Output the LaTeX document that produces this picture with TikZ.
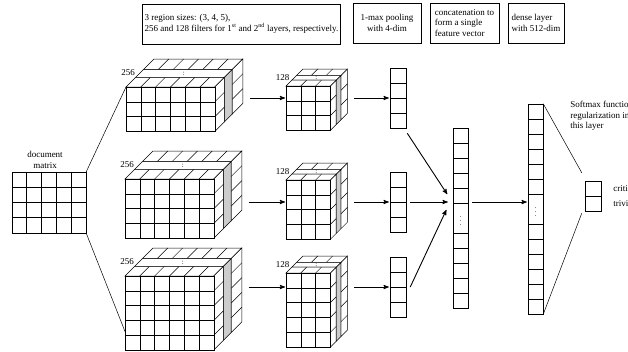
\documentclass[tikz,border=0pt]{standalone}
\usepackage{fontspec}
\setmainfont{Liberation Serif}
\usepackage{tikz}
\usetikzlibrary{arrows,positioning,calc}

\def\cellsize{14.8}
\def\fa{0.34}
\def\fb{0.62}

% one slab of cubes between the depths #1 and #2
\newcommand{\cubelayer}[2]{%
  \filldraw[fill=white] ({#1*\dep},{-#1*\dep}) -- ({\bw+#1*\dep},{-#1*\dep})
    -- ({\bw+#2*\dep},{-#2*\dep}) -- ({#2*\dep},{-#2*\dep}) -- cycle;
  \filldraw[fill=white] ({\bw+#1*\dep},{-#1*\dep}) -- ({\bw+#1*\dep},{\bh-#1*\dep})
    -- ({\bw+#2*\dep},{\bh-#2*\dep}) -- ({\bw+#2*\dep},{-#2*\dep}) -- cycle;
  \foreach \i in {1,...,\ncol}
    \draw ({\i*\cellsize+#1*\dep},{-#1*\dep}) -- ({\i*\cellsize+#2*\dep},{-#2*\dep});
  \foreach \j in {1,...,\nrow}
    \draw ({\bw+#1*\dep},{\j*\cellsize-#1*\dep}) -- ({\bw+#2*\dep},{\j*\cellsize-#2*\dep});
}

% name, x, y, cols, rows, depth, label
\newcommand{\filterblock}[7]{%
  \begin{scope}[shift={(#2,#3)}]
    \pgfmathsetmacro\bw{#4*\cellsize}
    \pgfmathsetmacro\bh{#5*\cellsize}
    \pgfmathtruncatemacro\ncol{#4-1}
    \pgfmathtruncatemacro\nrow{#5-1}
    \def\dep{#6}
    \coordinate (#1) at (0,0);
    \coordinate (#1-lo) at (0,{0.75*\bh});
    \coordinate (#1-out) at ({\bw+\dep+7},0);
    \cubelayer{\fb}{1}
    % gap between the slabs
    \filldraw[fill=white] ({\fa*\dep},{-\fa*\dep}) -- ({\bw+\fa*\dep},{-\fa*\dep})
      -- ({\bw+\fb*\dep},{-\fb*\dep}) -- ({\fb*\dep},{-\fb*\dep}) -- cycle;
    \filldraw[fill=gray!40] ({\bw+\fa*\dep},{-\fa*\dep}) -- ({\bw+\fa*\dep},{\bh-\fa*\dep})
      -- ({\bw+\fb*\dep},{\bh-\fb*\dep}) -- ({\bw+\fb*\dep},{-\fb*\dep}) -- cycle;
    \node[font=\scriptsize,inner sep=0pt] at ({0.5*\bw+0.48*\dep},{-0.48*\dep}) {:};
    \cubelayer{0}{\fa}
    % front face
    \filldraw[fill=white] (0,0) rectangle (\bw,\bh);
    \foreach \i in {1,...,\ncol} \draw ({\i*\cellsize},0) -- ({\i*\cellsize},\bh);
    \foreach \j in {1,...,\nrow} \draw (0,{\j*\cellsize}) -- (\bw,{\j*\cellsize});
    \node[anchor=east,inner sep=1pt] (#1-num) at ({0.5*\dep-4},{-0.5*\dep}) {#7};
  \end{scope}}

\begin{document}
\begin{tikzpicture}[x=1pt,y=-1pt,>=stealth',line width=0.5pt,
    font=\fontsize{9}{10.5}\selectfont,
    vec/.style={draw,minimum width=16pt,inner sep=0pt},
    infobox/.style={draw,minimum height=40pt,inner xsep=2pt,inner ysep=3pt},
    vdot/.style={font=\scriptsize,inner sep=0pt},
    conn/.style={->,shorten >=1pt,line width=0.9pt}]

  \clip (0,0) rectangle (628,351);

  % captions
  \node[infobox,minimum width=195pt,align=left] (regbox) at (241.5,24)
    {3 region sizes: (3, 4, 5),\\256 and 128 filters for 1\textsuperscript{st} and 2\textsuperscript{nd} layers, respectively.};
  \node[infobox,minimum width=68pt,align=center] (poolbox) at (387,23) {1-max pooling\\with 4-dim};
  \node[infobox,minimum width=69pt,align=left] (catbox) at (464.5,23) {concatenation to\\form a single\\feature vector};
  \node[infobox,minimum width=56pt,align=left] (densebox) at (536,23) {dense layer\\with 512-dim};

  % document matrix
  \node[draw,minimum width=74pt,minimum height=61pt,inner sep=0pt] (docmat) at (49,202.5) {};
  \foreach \i in {1,...,4}
    \draw ([xshift=\i*14.8pt]docmat.north west) -- ([xshift=\i*14.8pt]docmat.south west);
  \foreach \j in {1,2,3}
    \draw ([yshift=-\j*15.25pt]docmat.north west) -- ([yshift=-\j*15.25pt]docmat.north east);
  \node[above=2pt of docmat,xshift=-4pt,align=center,inner sep=1pt] (matlabel) {document\\matrix};

  % convolution layers
  \filterblock{blkA}{126}{87}{6}{3}{28}{256}
  \filterblock{blkB}{125}{179}{6}{4}{28}{256}
  \filterblock{blkC}{125}{276}{6}{5}{28}{256}
  \filterblock{sblA}{286}{86}{3}{3}{17}{128}
  \filterblock{sblB}{286}{180}{3}{4}{17}{128}
  \filterblock{sblC}{286}{273}{3}{5}{17}{128}

  % pooled vectors
  \node[vec,minimum height=60pt] (poolA) at (398,98) {};
  \node[vec,minimum height=60pt] (poolB) at (398,202) {};
  \node[vec,minimum height=60pt] (poolC) at (398,287) {};
  \foreach \p in {poolA,poolB,poolC}
    \foreach \k in {15,30,45}
      \draw ([yshift=-\k*1pt]\p.north west) -- ([yshift=-\k*1pt]\p.north east);

  % concatenated and dense vectors
  \node[vec,minimum width=15pt,minimum height=180pt] (concat) at (460.5,218) {};
  \foreach \k in {15,30,45,60,75,105,120,135,150,165}
    \draw ([yshift=-\k*1pt]concat.north west) -- ([yshift=-\k*1pt]concat.north east);
  \node[vdot] (catdots) at (concat.center) {$\vdots$};

  \node[vec,minimum width=15pt,minimum height=210pt] (dense) at (535.5,209) {};
  \foreach \k in {15,30,45,60,75,90,120,135,150,165,180,195}
    \draw ([yshift=-\k*1pt]dense.north west) -- ([yshift=-\k*1pt]dense.north east);
  \node[vdot] (densedots) at (dense.center) {$\vdots$};

  % softmax output
  \node[vec,minimum height=30pt] (softmax) at (593,196) {};
  \draw (softmax.west) -- (softmax.east);
  \node[anchor=west,inner sep=1pt] (crit) at (612,188.5) {critical};
  \node[anchor=west,inner sep=1pt] (triv) at (612,203.5) {trivial};
  \node[anchor=north west,align=left,inner sep=1pt] (smtext) at (569,100)
    {Softmax function\\regularization in\\this layer};

  % connectors
  \draw (docmat.north east) -- (blkA);
  \draw (docmat.south east) -- (blkC-lo);

  \draw[conn] (blkA-out |- poolA.west) -- (sblA |- poolA.west);
  \draw[conn] (blkB-out |- poolB.west) -- (sblB |- poolB.west);
  \draw[conn] (blkC-out |- poolC.west) -- (sblC |- poolC.west);
  \draw[conn] (sblA-out |- poolA.west) -- (poolA.west);
  \draw[conn] (sblB-out |- poolB.west) -- (poolB.west);
  \draw[conn] (sblC-out |- poolC.west) -- (poolC.west);

  \coordinate (catin) at ($(concat.west |- poolB.west)+(-4,0)$);
  \draw[conn] ($(poolA.south east)+(1,5)$) -- ($(catin)+(-1,-7)$);
  \draw[conn] ($(poolB.east)+(4,0)$) -- (catin);
  \draw[conn] ($(poolC.east)+(4,0)$) -- ($(catin)+(-2,7)$);
  \draw[conn] ($(concat.east |- catin)+(4,0)$) -- (dense.west |- catin);

  \coordinate (smup) at ($(softmax.north west)+(-3,-8)$);
  \coordinate (smlow) at ($(softmax.south west)+(-3,2)$);
  \draw (dense.north east) -- (smup);
  \draw (dense.south east) -- (smlow);
\end{tikzpicture}
\end{document}
